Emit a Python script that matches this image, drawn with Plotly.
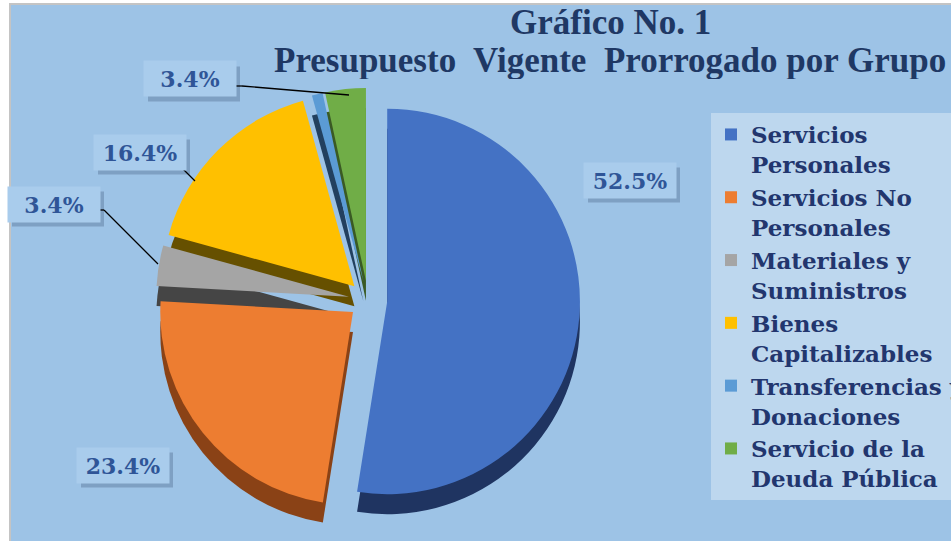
import plotly.graph_objects as go

W, H = 951, 541

# ---- data ----
categories = ["Servicios<br>Personales", "Servicios No<br>Personales", "Materiales y<br>Suministros",
              "Bienes<br>Capitalizables", "Transferencias y<br>Donaciones", "Servicio de la<br>Deuda Pública"]
values = [52.5, 23.4, 3.4, 16.4, 0.9, 3.4]
show_label = [True, True, True, True, False, True]
title_lines = ["Gráfico No. 1", "Presupuesto&nbsp; Vigente&nbsp; Prorrogado por Grupo"]

colors = ["#4472C4", "#ED7D31", "#A5A5A5", "#FFC000", "#5B9BD5", "#70AD47"]
dark_colors = ["#1F3461", "#8A4216", "#454545", "#665000", "#22405F", "#3A5A24"]

def px_x(p):
    return p / W

def px_y(p):
    return 1 - p / H

# pie geometry (pixels)
cx, cy, R = 368, 300, 212
depth = 20
pulls = [0.1] * len(values)

dom_x = [px_x(cx - R), px_x(cx + R)]
dom_y = [1 - (cy + R) / H, 1 - (cy - R) / H]
dom_y_depth = [1 - (cy + depth + R) / H, 1 - (cy + depth - R) / H]

fig = go.Figure()

# 3D side (darker copy, offset downward)
fig.add_trace(go.Pie(
    labels=categories, values=values, sort=False, direction="clockwise", rotation=0,
    pull=pulls, marker=dict(colors=dark_colors, line=dict(width=0)),
    textinfo="none", hoverinfo="skip", showlegend=False,
    domain=dict(x=dom_x, y=dom_y_depth),
))

# top face
fig.add_trace(go.Pie(
    labels=categories, values=values, sort=False, direction="clockwise", rotation=0,
    pull=pulls, marker=dict(colors=colors, line=dict(width=0)),
    textinfo="none", showlegend=True,
    domain=dict(x=dom_x, y=dom_y),
))

shapes = [dict(type="rect", xref="paper", yref="paper", x0=px_x(10), x1=1.01, y0=-0.01, y1=px_y(4),
               fillcolor="#9DC3E6", line=dict(color="#C4C4C4", width=2), layer="below")]

# label boxes (text from values)
label_pos = [(630, 180), (123, 465), (54, 204), (140, 152), None, (190, 79)]
bw, bh = 92, 35
total = sum(values)
for v, pos, show in zip(values, label_pos, show_label):
    if not show or pos is None:
        continue
    txt = f"{v / total * 100:.1f}%"
    x, y = pos
    # shadow
    shapes.append(dict(type="rect", xref="paper", yref="paper", layer="above",
                       x0=px_x(x - bw / 2 + 4), x1=px_x(x + bw / 2 + 4),
                       y0=px_y(y + bh / 2 + 5), y1=px_y(y - bh / 2 + 5),
                       fillcolor="rgba(70,95,130,0.35)", line=dict(width=0)))
    fig.add_annotation(x=px_x(x), y=px_y(y), xref="paper", yref="paper",
                       xanchor="center", yanchor="middle",
                       text=f"<b>{txt}</b>", showarrow=False, width=bw - 2, height=bh - 2,
                       bgcolor="#A9CCEC",
                       font=dict(family="DejaVu Serif", size=22, color="#2F5597"))

# title
for line, ty in zip(title_lines, [23, 61]):
    fig.add_annotation(x=px_x(610), y=px_y(ty), xref="paper", yref="paper",
                       xanchor="center", yanchor="middle", showarrow=False,
                       text=f"<b>{line}</b>", height=37, borderpad=0,
                       font=dict(family="Liberation Serif", size=35, color="#1F3864"))

# leader lines
leaders = [
    [(99, 210), (104, 210), (158, 264)],
    [(183, 169), (195, 181)],
    [(235, 86), (242, 86), (349, 95)],
]
for pts in leaders:
    for (x0, y0), (x1, y1) in zip(pts[:-1], pts[1:]):
        shapes.append(dict(type="line", xref="paper", yref="paper",
                           x0=px_x(x0), y0=px_y(y0), x1=px_x(x1), y1=px_y(y1),
                           line=dict(color="black", width=1.3)))

fig.update_layout(
    width=W, height=H,
    margin=dict(l=0, r=0, t=0, b=0, autoexpand=False),
    paper_bgcolor="#FFFFFF",
    plot_bgcolor="#9DC3E6",
    shapes=shapes,
    legend=dict(
        x=px_x(711), xanchor="left", y=px_y(113), yanchor="top",
        bgcolor="#BDD7EE", borderwidth=0, valign="top",
        font=dict(family="DejaVu Serif", size=23, color="#22366E", weight="bold"),
    ),
)

fig.write_html("out.html", config={"displayModeBar": False},
               post_script="document.body.style.margin='0';")
